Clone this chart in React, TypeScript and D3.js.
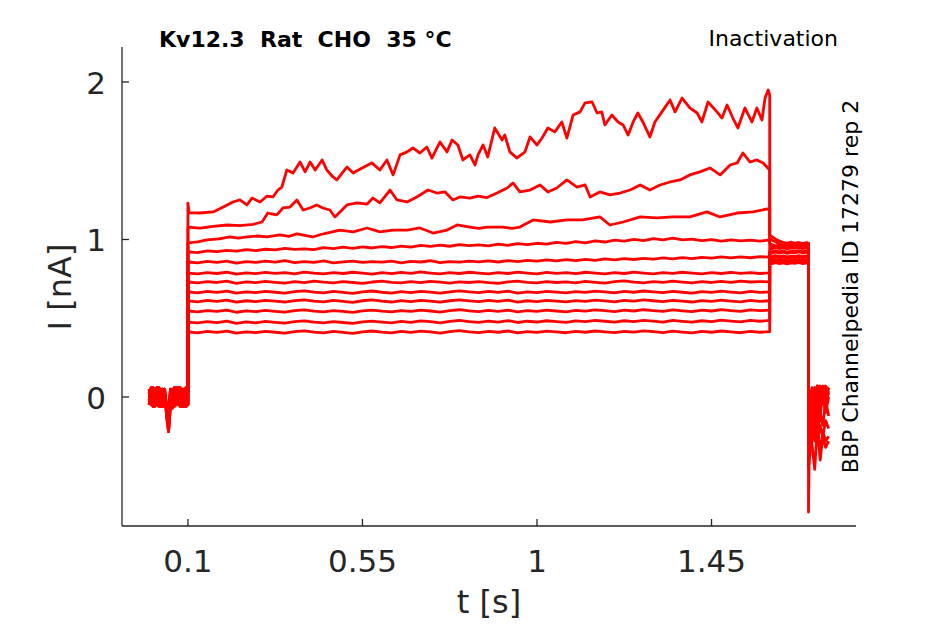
import React from "react";
import * as d3 from "d3";

// ---------- data ----------
const xTicks = [0.1, 0.55, 1, 1.45];
const yTicks = [0, 1, 2];
const titleText = "Kv12.3  Rat  CHO  35 °C";
const protocolText = "Inactivation";
const sourceText = "BBP Channelpedia ID 17279 rep 2";
const xLabel = "t [s]";
const yLabel = "I [nA]";

// sample times
const preT = d3.range(0, 0.1 + 1e-9, 0.005);
const gridT = d3.range(0.1, 1.6 + 1e-9, 0.025);
const tailT = [1.6, 1.606, 1.615, 1.625, 1.635, 1.645, 1.655, 1.665, 1.675, 1.685, 1.695, 1.7];
const finalT = [1.7, 1.703, 1.709, 1.716, 1.723, 1.73, 1.737, 1.744, 1.752];

// holding (before step)
const pre1 = [0.03, -0.05, 0.06, -0.04, 0.05, -0.06, 0.04, -0.03, 0.05, -0.12, -0.22, -0.05, 0.04, -0.06, 0.05, -0.04, 0.06, -0.05, 0.04, -0.06, 0.03];
const pre2 = [-0.02, 0.05, -0.06, 0.04, -0.05, 0.06, -0.04, 0.05, -0.02, -0.08, -0.15, 0.03, -0.05, 0.06, -0.03, 0.05, -0.06, 0.04, -0.05, 0.06, -0.04];
const pre3 = [0.05, -0.03, 0.04, -0.06, 0.06, -0.02, 0.05, -0.06, 0.03, -0.05, -0.1, 0.05, -0.07, 0.04, -0.05, 0.06, -0.03, 0.05, -0.06, 0.04, -0.05];
const pre4 = [-0.05, 0.06, -0.02, 0.05, -0.04, 0.04, -0.06, 0.03, -0.05, -0.04, -0.18, -0.02, 0.05, -0.04, 0.06, -0.05, 0.03, -0.06, 0.05, -0.03, 0.05];

// step pulse, top three traces as [t, I] readings
const pulse1: [number, number][] = [
  [0.1, 1.23], [0.103, 1.17], [0.131, 1.168], [0.165, 1.175], [0.191, 1.206], [0.216, 1.238], [0.234, 1.251], [0.252, 1.219],
  [0.265, 1.263], [0.286, 1.238], [0.304, 1.276], [0.319, 1.27], [0.332, 1.314], [0.342, 1.333], [0.355, 1.441],
  [0.371, 1.422], [0.389, 1.492], [0.402, 1.429], [0.415, 1.492], [0.428, 1.441], [0.446, 1.505], [0.458, 1.441],
  [0.474, 1.397], [0.484, 1.378], [0.5, 1.429], [0.51, 1.46], [0.526, 1.422], [0.549, 1.454], [0.574, 1.486],
  [0.595, 1.441], [0.613, 1.505], [0.629, 1.41], [0.647, 1.537], [0.665, 1.556], [0.68, 1.581], [0.698, 1.549],
  [0.716, 1.587], [0.729, 1.517], [0.75, 1.619], [0.768, 1.556], [0.781, 1.632], [0.796, 1.6], [0.809, 1.505],
  [0.827, 1.537], [0.84, 1.473], [0.848, 1.537], [0.861, 1.6], [0.873, 1.524], [0.891, 1.708], [0.91, 1.632],
  [0.917, 1.663], [0.93, 1.556], [0.948, 1.517], [0.969, 1.556], [0.982, 1.651], [1.0, 1.6], [1.013, 1.644],
  [1.028, 1.708], [1.046, 1.683], [1.064, 1.746], [1.077, 1.644], [1.093, 1.79], [1.111, 1.81], [1.124, 1.867],
  [1.142, 1.873], [1.155, 1.803], [1.167, 1.81], [1.175, 1.727], [1.193, 1.79], [1.209, 1.746], [1.222, 1.727],
  [1.235, 1.663], [1.248, 1.746], [1.26, 1.803], [1.273, 1.746], [1.291, 1.651], [1.304, 1.746], [1.322, 1.81],
  [1.343, 1.886], [1.356, 1.81], [1.374, 1.898], [1.394, 1.835], [1.413, 1.803], [1.425, 1.746], [1.441, 1.873],
  [1.464, 1.81], [1.477, 1.771], [1.49, 1.854], [1.505, 1.771], [1.518, 1.708], [1.536, 1.835], [1.554, 1.746],
  [1.567, 1.835], [1.58, 1.759], [1.588, 1.898], [1.596, 1.949], [1.6, 1.917],
];
const pulse2: [number, number][] = [
  [0.1, 1.079], [0.131, 1.072], [0.165, 1.083], [0.201, 1.092], [0.234, 1.088], [0.268, 1.096], [0.291, 1.111],
  [0.306, 1.168], [0.329, 1.156], [0.345, 1.2], [0.363, 1.206], [0.381, 1.251], [0.397, 1.187], [0.414, 1.2],
  [0.432, 1.219], [0.448, 1.2], [0.466, 1.187], [0.479, 1.143], [0.492, 1.175], [0.51, 1.219], [0.536, 1.232],
  [0.562, 1.225], [0.577, 1.263], [0.595, 1.232], [0.621, 1.314], [0.639, 1.251], [0.665, 1.238], [0.69, 1.27],
  [0.719, 1.314], [0.742, 1.295], [0.763, 1.302], [0.783, 1.251], [0.801, 1.27], [0.827, 1.262], [0.848, 1.275],
  [0.871, 1.266], [0.897, 1.295], [0.923, 1.327], [0.938, 1.359], [0.956, 1.302], [0.982, 1.314], [1.008, 1.346],
  [1.028, 1.302], [1.051, 1.327], [1.077, 1.378], [1.103, 1.333], [1.124, 1.346], [1.137, 1.27], [1.162, 1.302],
  [1.188, 1.283], [1.214, 1.295], [1.24, 1.314], [1.266, 1.346], [1.291, 1.314], [1.317, 1.346], [1.343, 1.365],
  [1.369, 1.378], [1.394, 1.41], [1.42, 1.429], [1.446, 1.454], [1.472, 1.41], [1.498, 1.473], [1.516, 1.486],
  [1.531, 1.549], [1.549, 1.492], [1.567, 1.505], [1.583, 1.486], [1.6, 1.441],
];
const pulse3: [number, number][] = [
  [0.1, 0.978], [0.125, 0.985], [0.149, 0.997], [0.18, 1.004], [0.208, 1.016], [0.23, 1.008], [0.252, 1.016],
  [0.28, 1.022], [0.304, 1.016], [0.337, 1.029], [0.36, 1.02], [0.381, 1.035], [0.422, 1.016], [0.44, 1.03],
  [0.458, 1.041], [0.492, 1.06], [0.526, 1.048], [0.562, 1.073], [0.595, 1.048], [0.629, 1.06], [0.665, 1.06],
  [0.698, 1.073], [0.732, 1.041], [0.768, 1.06], [0.794, 1.092], [0.827, 1.079], [0.85, 1.07], [0.871, 1.079],
  [0.912, 1.079], [0.935, 1.07], [0.956, 1.079], [0.99, 1.124], [1.034, 1.111], [1.077, 1.124], [1.118, 1.124],
  [1.162, 1.143], [1.188, 1.092], [1.222, 1.111], [1.266, 1.143], [1.309, 1.137], [1.351, 1.143], [1.394, 1.143],
  [1.438, 1.175], [1.472, 1.143], [1.516, 1.168], [1.557, 1.175], [1.593, 1.194], [1.6, 1.187],
];

// step pulse, remaining traces on the gridT samples
const pulse4 = [
  0.921, 0.917, 0.928, 0.923, 0.931, 0.926, 0.936, 0.929, 0.938, 0.934,
  0.944, 0.937, 0.941, 0.935, 0.948, 0.942, 0.951, 0.944, 0.953, 0.946,
  0.955, 0.949, 0.958, 0.951, 0.962, 0.956, 0.964, 0.957, 0.967, 0.961,
  0.966, 0.96, 0.97, 0.963, 0.974, 0.967, 0.976, 0.971, 0.982, 0.975,
  0.987, 0.979, 0.991, 0.984, 0.996, 0.989, 1.001, 0.993, 1.006, 0.998,
  1.009, 0.997, 1.002, 0.993, 0.999, 0.99, 0.998, 0.991, 0.996, 0.989,
  0.998,
];
const pulse5 = [
  0.857, 0.852, 0.861, 0.855, 0.863, 0.85, 0.859, 0.854, 0.862, 0.856,
  0.866, 0.853, 0.86, 0.855, 0.864, 0.851, 0.858, 0.862, 0.854, 0.86,
  0.856, 0.863, 0.852, 0.861, 0.857, 0.865, 0.853, 0.86, 0.856, 0.862,
  0.858, 0.864, 0.857, 0.866, 0.86, 0.868, 0.862, 0.87, 0.864, 0.872,
  0.866, 0.874, 0.868, 0.877, 0.87, 0.879, 0.873, 0.88, 0.875, 0.883,
  0.877, 0.885, 0.879, 0.887, 0.881, 0.889, 0.883, 0.89, 0.884, 0.891,
  0.888,
];
const pulse6 = [
  0.787, 0.781, 0.79, 0.784, 0.792, 0.78, 0.788, 0.783, 0.791, 0.785,
  0.789, 0.782, 0.793, 0.786, 0.781, 0.79, 0.784, 0.792, 0.786, 0.78,
  0.789, 0.783, 0.791, 0.785, 0.794, 0.787, 0.782, 0.79, 0.784, 0.792,
  0.786, 0.781, 0.79, 0.784, 0.793, 0.787, 0.782, 0.791, 0.785, 0.789,
  0.783, 0.792, 0.786, 0.781, 0.79, 0.784, 0.793, 0.787, 0.782, 0.79,
  0.785, 0.792, 0.786, 0.781, 0.789, 0.784, 0.791, 0.785, 0.79, 0.784,
  0.788,
];
const pulse7 = [
  0.73, 0.724, 0.733, 0.727, 0.735, 0.722, 0.731, 0.726, 0.734, 0.728,
  0.723, 0.732, 0.726, 0.736, 0.729, 0.724, 0.733, 0.727, 0.721, 0.73,
  0.735, 0.728, 0.724, 0.732, 0.726, 0.734, 0.729, 0.723, 0.731, 0.727,
  0.733, 0.726, 0.722, 0.731, 0.736, 0.728, 0.724, 0.733, 0.727, 0.731,
  0.725, 0.734, 0.728, 0.723, 0.732, 0.737, 0.729, 0.725, 0.733, 0.728,
  0.735, 0.729, 0.724, 0.732, 0.727, 0.734, 0.728, 0.736, 0.73, 0.733,
  0.731,
];
const pulse8 = [
  0.667, 0.661, 0.67, 0.664, 0.672, 0.659, 0.668, 0.663, 0.671, 0.665,
  0.66, 0.669, 0.674, 0.666, 0.661, 0.67, 0.664, 0.658, 0.668, 0.673,
  0.665, 0.66, 0.669, 0.663, 0.671, 0.666, 0.659, 0.668, 0.674, 0.667,
  0.662, 0.67, 0.664, 0.672, 0.66, 0.668, 0.663, 0.671, 0.666, 0.661,
  0.669, 0.664, 0.672, 0.667, 0.661, 0.67, 0.665, 0.673, 0.668, 0.662,
  0.671, 0.665, 0.66, 0.669, 0.664, 0.672, 0.666, 0.661, 0.67, 0.664,
  0.668,
];
const pulse9 = [
  0.61, 0.604, 0.613, 0.607, 0.615, 0.602, 0.611, 0.606, 0.614, 0.608,
  0.603, 0.612, 0.617, 0.609, 0.604, 0.613, 0.607, 0.601, 0.611, 0.616,
  0.608, 0.603, 0.612, 0.606, 0.614, 0.609, 0.602, 0.611, 0.617, 0.61,
  0.605, 0.613, 0.607, 0.615, 0.603, 0.611, 0.606, 0.614, 0.609, 0.604,
  0.612, 0.607, 0.615, 0.61, 0.604, 0.613, 0.608, 0.616, 0.611, 0.605,
  0.614, 0.608, 0.603, 0.612, 0.607, 0.615, 0.609, 0.604, 0.613, 0.607,
  0.611,
];
const pulse10 = [
  0.546, 0.54, 0.549, 0.543, 0.551, 0.538, 0.547, 0.542, 0.55, 0.544,
  0.539, 0.548, 0.553, 0.545, 0.54, 0.549, 0.543, 0.537, 0.547, 0.552,
  0.545, 0.54, 0.549, 0.543, 0.551, 0.546, 0.539, 0.548, 0.554, 0.547,
  0.542, 0.55, 0.544, 0.552, 0.54, 0.548, 0.543, 0.551, 0.546, 0.541,
  0.55, 0.545, 0.553, 0.548, 0.542, 0.551, 0.546, 0.554, 0.549, 0.543,
  0.553, 0.547, 0.542, 0.551, 0.546, 0.555, 0.549, 0.544, 0.553, 0.548,
  0.552,
];
const pulse11 = [
  0.476, 0.47, 0.479, 0.472, 0.481, 0.468, 0.477, 0.471, 0.48, 0.474,
  0.469, 0.478, 0.483, 0.475, 0.47, 0.479, 0.473, 0.467, 0.477, 0.482,
  0.476, 0.471, 0.48, 0.474, 0.483, 0.478, 0.471, 0.48, 0.486, 0.479,
  0.474, 0.482, 0.476, 0.485, 0.473, 0.481, 0.476, 0.484, 0.479, 0.474,
  0.483, 0.478, 0.486, 0.481, 0.475, 0.484, 0.479, 0.487, 0.482, 0.476,
  0.486, 0.48, 0.475, 0.484, 0.479, 0.488, 0.482, 0.477, 0.486, 0.481,
  0.487,
];
const pulse12 = [
  0.413, 0.407, 0.416, 0.41, 0.418, 0.405, 0.414, 0.408, 0.417, 0.411,
  0.406, 0.415, 0.42, 0.412, 0.407, 0.416, 0.41, 0.404, 0.414, 0.419,
  0.412, 0.407, 0.416, 0.41, 0.418, 0.413, 0.406, 0.415, 0.421, 0.414,
  0.409, 0.417, 0.411, 0.419, 0.407, 0.415, 0.41, 0.418, 0.413, 0.408,
  0.416, 0.411, 0.419, 0.414, 0.408, 0.417, 0.412, 0.42, 0.415, 0.409,
  0.418, 0.412, 0.407, 0.416, 0.411, 0.419, 0.413, 0.408, 0.417, 0.411,
  0.415,
];

// tail (after step) on tailT samples
const tail1 = [1.03, 1.018, 1.002, 0.99, 0.982, 0.976, 0.983, 0.975, 0.981, 0.974, 0.98, 0.977];
const tail2 = [1.005, 0.995, 0.985, 0.972, 0.968, 0.975, 0.966, 0.973, 0.967, 0.974, 0.968, 0.971];
const tail3 = [0.975, 0.968, 0.96, 0.965, 0.958, 0.966, 0.959, 0.964, 0.957, 0.965, 0.96, 0.962];
const tail4 = [0.955, 0.95, 0.957, 0.951, 0.958, 0.952, 0.956, 0.95, 0.957, 0.953, 0.958, 0.954];
const tail5 = [0.945, 0.941, 0.948, 0.942, 0.947, 0.94, 0.946, 0.943, 0.949, 0.942, 0.947, 0.944];
const tail6 = [0.925, 0.921, 0.928, 0.922, 0.927, 0.92, 0.926, 0.923, 0.929, 0.922, 0.927, 0.924];
const tail7 = [0.918, 0.913, 0.92, 0.914, 0.919, 0.912, 0.918, 0.915, 0.921, 0.914, 0.919, 0.916];
const tail8 = [0.895, 0.89, 0.897, 0.891, 0.896, 0.889, 0.895, 0.892, 0.898, 0.891, 0.896, 0.893];
const tail9 = [0.888, 0.883, 0.89, 0.884, 0.889, 0.882, 0.888, 0.885, 0.891, 0.884, 0.889, 0.886];
const tail10 = [0.87, 0.866, 0.873, 0.867, 0.872, 0.865, 0.871, 0.868, 0.874, 0.867, 0.872, 0.869];
const tail11 = [0.858, 0.854, 0.861, 0.855, 0.86, 0.853, 0.859, 0.856, 0.862, 0.855, 0.86, 0.857];
const tail12 = [0.85, 0.846, 0.853, 0.847, 0.852, 0.845, 0.851, 0.848, 0.854, 0.847, 0.852, 0.849];

// return to holding on finalT samples
const fin1 = [-0.73, -0.1, 0.03, 0.06, 0.02, 0.07, 0.04, 0.06, 0.03];
const fin2 = [-0.35, -0.05, 0.05, -0.04, 0.06, 0.02, 0.07, 0.03, 0.06];
const fin3 = [-0.3, -0.12, -0.02, 0.05, -0.08, 0.04, -0.02, 0.06, 0.02];
const fin4 = [-0.25, -0.2, -0.1, 0.03, -0.15, 0.0, 0.05, -0.05, 0.03];
const fin5 = [-0.4, -0.3, -0.05, -0.2, -0.08, -0.12, 0.02, -0.1, 0.0];
const fin6 = [-0.2, -0.22, -0.15, -0.05, -0.25, -0.1, -0.18, -0.02, -0.12];
const fin7 = [-0.45, -0.38, -0.25, -0.12, -0.3, -0.18, -0.25, -0.15, -0.2];
const fin8 = [-0.3, -0.15, -0.1, -0.28, -0.2, -0.35, -0.22, -0.28, -0.25];
const fin9 = [-0.15, -0.05, 0.04, -0.05, 0.07, -0.03, 0.05, 0.0, 0.06];
const fin10 = [-0.25, -0.12, -0.05, 0.05, -0.02, 0.06, -0.04, 0.05, 0.03];
const fin11 = [-0.35, -0.2, -0.3, -0.46, -0.18, -0.4, -0.25, -0.32, -0.28];
const fin12 = [-0.2, -0.08, 0.06, 0.0, 0.07, 0.02, 0.05, 0.07, 0.04];

// ---------- assembly ----------
type Pt = [number, number];
const zip = (ts: number[], vs: number[]): Pt[] => vs.map((v, i) => [ts[i], v] as Pt);

const pres = [pre1, pre2, pre3, pre4, pre1, pre2, pre3, pre4, pre1, pre2, pre3, pre4];
const pulses: Pt[][] = [
  pulse1, pulse2, pulse3,
  zip(gridT, pulse4), zip(gridT, pulse5), zip(gridT, pulse6), zip(gridT, pulse7),
  zip(gridT, pulse8), zip(gridT, pulse9), zip(gridT, pulse10), zip(gridT, pulse11), zip(gridT, pulse12),
];
const tails = [tail1, tail2, tail3, tail4, tail5, tail6, tail7, tail8, tail9, tail10, tail11, tail12];
const fins = [fin1, fin2, fin3, fin4, fin5, fin6, fin7, fin8, fin9, fin10, fin11, fin12];

const traces: Pt[][] = pulses.map((p, i) => [
  ...zip(preT, pres[i]),
  ...p,
  ...zip(tailT, tails[i]),
  ...zip(finalT, fins[i]),
]);

const W = 945;
const H = 624;
const L = 122, R = 856, T = 47, B = 526;
const FONT = "'DejaVu Sans', sans-serif";
const AX = "#262626";

export default function App() {
  const x = d3.scaleLinear().domain([-0.07, 1.8225]).range([L, R]);
  const y = d3.scaleLinear().domain([-0.819, 2.222]).range([B, T]);
  const line = d3.line<Pt>().x((d) => x(d[0])).y((d) => y(d[1]));

  return (
    <svg width={W} height={H} style={{ position: "absolute", left: 0, top: 0, background: "#fff" }} fontFamily={FONT}>
      <rect x={0} y={0} width={W} height={H} fill="#fff" />
      <g>
        {traces.map((tr, i) => (
          <path key={i} d={line(tr) || ""} fill="none" stroke="#ff0000" strokeWidth={2.8} strokeLinejoin="round" />
        ))}
      </g>
      {/* axes */}
      <line x1={L} x2={L} y1={T} y2={B} stroke={AX} strokeWidth={1.3} />
      <line x1={L} x2={R} y1={B} y2={B} stroke={AX} strokeWidth={1.3} />
      {xTicks.map((t) => (
        <g key={"x" + t}>
          <line x1={x(t)} x2={x(t)} y1={B} y2={B - 7} stroke={AX} strokeWidth={1.3} />
          <text x={x(t)} y={572} textAnchor="middle" fontSize={31} fill={AX}>
            {String(t)}
          </text>
        </g>
      ))}
      {yTicks.map((v) => (
        <g key={"y" + v}>
          <line x1={L} x2={L + 7} y1={y(v)} y2={y(v)} stroke={AX} strokeWidth={1.3} />
          <text x={106} y={y(v) + 12} textAnchor="end" fontSize={31} fill={AX}>
            {String(v)}
          </text>
        </g>
      ))}
      <text x={(L + R) / 2} y={613} textAnchor="middle" fontSize={32} fill={AX}>
        {xLabel}
      </text>
      <text transform={`translate(71,287) rotate(-90)`} textAnchor="middle" fontSize={32} fill={AX}>
        {yLabel}
      </text>
      <text x={159} y={47} fontSize={22} fontWeight="bold" fill="#000" style={{ whiteSpace: "pre" }}>
        {titleText}
      </text>
      <text x={838} y={46} textAnchor="end" fontSize={22} fill="#000">
        {protocolText}
      </text>
      <text transform={`translate(858,286.5) rotate(-90)`} textAnchor="middle" fontSize={22} fill="#000">
        {sourceText}
      </text>
    </svg>
  );
}
